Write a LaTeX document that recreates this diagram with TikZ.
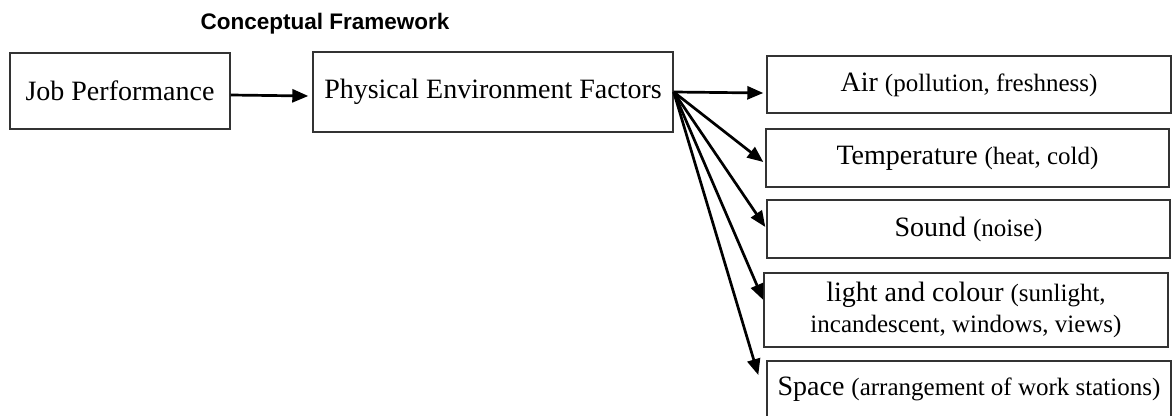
\documentclass[tikz,border=0pt]{standalone}
\usepackage{fontspec}
\setmainfont{Liberation Serif}
\newfontfamily\titlefont{Liberation Sans}
\usetikzlibrary{arrows.meta,calc}
\newcommand\smtxt[1]{{\fontsize{25}{31}\selectfont #1}}
\begin{document}
\begin{tikzpicture}[x=1pt,y=-1pt,
  box/.style={draw=black!80,line width=1.4pt,inner sep=0pt,anchor=center,align=center,font=\fontsize{28}{31}\selectfont},
  conn/.style={line width=2.7pt,-{Triangle[length=16pt,width=13pt]}}]
\fill[white] (0,0) rectangle (1172,415);
\useasboundingbox (0,0) rectangle (1172,415);
\node[anchor=base west,font=\titlefont\bfseries\fontsize{22.5}{27}\selectfont] (title) at (197,29) {Conceptual Framework};
\node[box,minimum width=220pt,minimum height=76pt] (jp) at (120,91) {Job Performance};
\node[box,minimum width=360pt,minimum height=80pt] (pef) at (493,92) {Physical Environment Factors};
\node[box,minimum width=404pt,minimum height=57pt] (air) at (969,84.5) {Air \smtxt{(pollution, freshness)}};
\node[box,minimum width=403pt,minimum height=58pt] (temp) at (967.5,158) {Temperature \smtxt{(heat, cold)}};
\node[box,minimum width=403pt,minimum height=58pt] (sound) at (968.5,229) {Sound \smtxt{(noise)}};
\node[box,minimum width=404pt,minimum height=74pt] (light) at (966,310) {light and colour \smtxt{(sunlight,}\\ \smtxt{incandescent, windows, views)}};
\node[box,minimum width=404pt,minimum height=56pt] (space) at (969,389) {Space \smtxt{(arrangement of work stations)}};
\draw[conn] ($(jp.east)+(0,4)$) -- ($(pef.west)+(-4,4)$);
\draw[conn] (pef.east) -- ($(pef.east -| air.west)+(-3,1)$);
\draw[conn] (pef.east) -- ($(temp.west)+(-2,4)$);
\draw[conn] (pef.east) -- ($(sound.west)+(-1,-2)$);
\draw[conn] (pef.east) -- ($(light.west)+(0,-10)$);
\draw[conn] (pef.east) -- ($(space.west)+(-8,-14)$);
\end{tikzpicture}
\end{document}
